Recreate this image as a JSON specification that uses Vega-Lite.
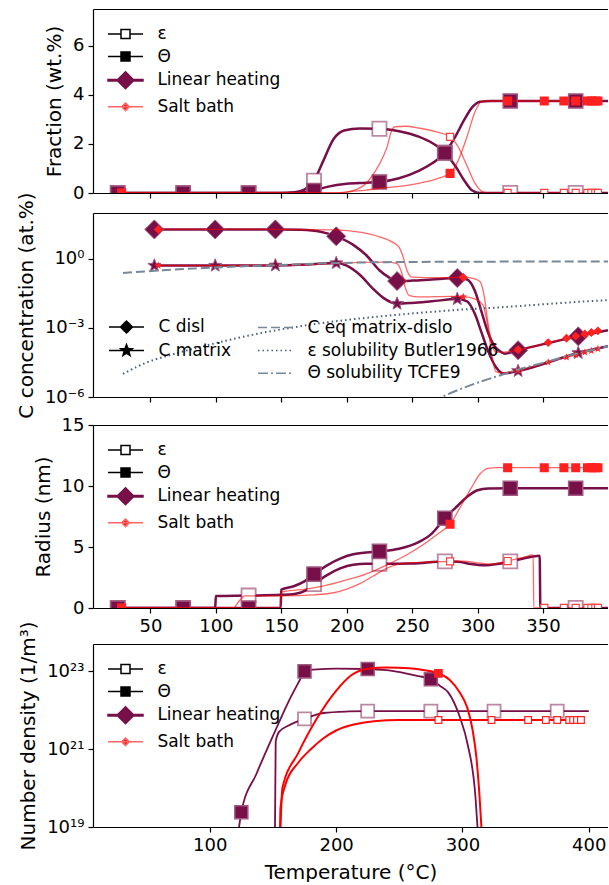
{
"$schema":"https://vega.github.io/schema/vega-lite/v6.json",
"background":"white",
"padding":{"left":16,"top":9,"right":0,"bottom":0},
"config":{"font":"DejaVu Sans","view":{"stroke":null},
"axis":{"labelFont":"DejaVu Sans","labelFontSize":18,"labelColor":"black","titleFont":"DejaVu Sans","titleFontSize":20,"titleFontWeight":"normal","titleColor":"black","tickColor":"black","tickSize":5,"tickWidth":1.2,"domainColor":"black","domainWidth":1.2,"grid":false,"labelPadding":4,"titlePadding":8,"labelOverlap":false},
"legend":{"labelFont":"DejaVu Sans","labelFontSize":17,"labelColor":"black","labelLimit":400}},
"datasets":{
"leg1":[{"leg":"ε"},{"leg":"Θ"},{"leg":"Linear heating"},{"leg":"Salt bath"}],
"leg2":[{"leg":"C disl"},{"leg":"C matrix"},{"leg":" "},{"leg":"C eq matrix-dislo"},{"leg":"ε solubility Butler1966"},{"leg":"Θ solubility TCFE9"}],
"f":[
{"s":"LHe","T":25,"v":0,"m":1},{"s":"LHe","T":75,"v":0,"m":1},{"s":"LHe","T":125,"v":0,"m":1},{"s":"LHe","T":150,"v":0},{"s":"LHe","T":160,"v":0.03},{"s":"LHe","T":168,"v":0.15},{"s":"LHe","T":175,"v":0.5,"m":1},{"s":"LHe","T":182,"v":1.3},{"s":"LHe","T":190,"v":2.2},{"s":"LHe","T":198,"v":2.55},{"s":"LHe","T":210,"v":2.63},{"s":"LHe","T":225,"v":2.62,"m":1},{"s":"LHe","T":240,"v":2.52},{"s":"LHe","T":255,"v":2.3},{"s":"LHe","T":265,"v":2.05},{"s":"LHe","T":275,"v":1.65,"m":1},{"s":"LHe","T":283,"v":1.1},{"s":"LHe","T":290,"v":0.5},{"s":"LHe","T":296,"v":0.1},{"s":"LHe","T":302,"v":0},{"s":"LHe","T":325,"v":0,"m":1},{"s":"LHe","T":375,"v":0,"m":1},{"s":"LHe","T":400,"v":0},
{"s":"LHt","T":25,"v":0,"m":1},{"s":"LHt","T":75,"v":0,"m":1},{"s":"LHt","T":125,"v":0,"m":1},{"s":"LHt","T":150,"v":0},{"s":"LHt","T":160,"v":0.01},{"s":"LHt","T":170,"v":0.05},{"s":"LHt","T":175,"v":0.1,"m":1},{"s":"LHt","T":185,"v":0.25},{"s":"LHt","T":200,"v":0.38},{"s":"LHt","T":215,"v":0.42},{"s":"LHt","T":225,"v":0.45,"m":1},{"s":"LHt","T":240,"v":0.6},{"s":"LHt","T":255,"v":0.9},{"s":"LHt","T":265,"v":1.2},{"s":"LHt","T":275,"v":1.63,"m":1},{"s":"LHt","T":283,"v":2.3},{"s":"LHt","T":290,"v":3.0},{"s":"LHt","T":296,"v":3.5},{"s":"LHt","T":302,"v":3.72},{"s":"LHt","T":310,"v":3.75},{"s":"LHt","T":325,"v":3.75,"m":1},{"s":"LHt","T":375,"v":3.75,"m":1},{"s":"LHt","T":400,"v":3.75},
{"s":"SBe","T":28,"v":0,"m":1},{"s":"SBe","T":195,"v":0},{"s":"SBe","T":205,"v":0.1},{"s":"SBe","T":215,"v":0.4},{"s":"SBe","T":222,"v":0.9},{"s":"SBe","T":228,"v":1.5},{"s":"SBe","T":231,"v":1.9},{"s":"SBe","T":234,"v":2.5},{"s":"SBe","T":237,"v":2.7},{"s":"SBe","T":245,"v":2.72},{"s":"SBe","T":255,"v":2.65},{"s":"SBe","T":268,"v":2.5},{"s":"SBe","T":279,"v":2.29,"m":1},{"s":"SBe","T":285,"v":1.9},{"s":"SBe","T":292,"v":1.1},{"s":"SBe","T":298,"v":0.4},{"s":"SBe","T":304,"v":0.05},{"s":"SBe","T":310,"v":0},{"s":"SBe","T":323,"v":0,"m":1},{"s":"SBe","T":351,"v":0,"m":1},{"s":"SBe","T":366,"v":0,"m":1},{"s":"SBe","T":375,"v":0,"m":1},{"s":"SBe","T":384,"v":0,"m":1},{"s":"SBe","T":387,"v":0,"m":1},{"s":"SBe","T":390,"v":0,"m":1},{"s":"SBe","T":392,"v":0,"m":1},
{"s":"SBt","T":28,"v":0,"m":1},{"s":"SBt","T":190,"v":0},{"s":"SBt","T":200,"v":0.05},{"s":"SBt","T":215,"v":0.12},{"s":"SBt","T":230,"v":0.22},{"s":"SBt","T":245,"v":0.3},{"s":"SBt","T":260,"v":0.45},{"s":"SBt","T":270,"v":0.6},{"s":"SBt","T":279,"v":0.8,"m":1},{"s":"SBt","T":285,"v":1.3},{"s":"SBt","T":292,"v":2.3},{"s":"SBt","T":298,"v":3.3},{"s":"SBt","T":303,"v":3.72},{"s":"SBt","T":308,"v":3.75},{"s":"SBt","T":323,"v":3.75,"m":1},{"s":"SBt","T":351,"v":3.75,"m":1},{"s":"SBt","T":366,"v":3.75,"m":1},{"s":"SBt","T":375,"v":3.75,"m":1},{"s":"SBt","T":384,"v":3.75,"m":1},{"s":"SBt","T":387,"v":3.75,"m":1},{"s":"SBt","T":390,"v":3.75,"m":1},{"s":"SBt","T":392,"v":3.75,"m":1}
],
"c":[
{"s":"LHd","T":53,"v":18.6,"m":1},{"s":"LHd","T":99.5,"v":18.6,"m":1},{"s":"LHd","T":145.5,"v":18.6,"m":1},{"s":"LHd","T":165,"v":17.8},{"s":"LHd","T":180,"v":14.8},{"s":"LHd","T":192,"v":9.33,"m":1},{"s":"LHd","T":205,"v":3.98},{"s":"LHd","T":215,"v":1.41},{"s":"LHd","T":225,"v":0.316},{"s":"LHd","T":232,"v":0.158},{"s":"LHd","T":238.5,"v":0.107,"m":1},{"s":"LHd","T":250,"v":0.112},{"s":"LHd","T":265,"v":0.126},{"s":"LHd","T":284.5,"v":0.145,"m":1},{"s":"LHd","T":292,"v":0.126},{"s":"LHd","T":298,"v":0.0398},{"s":"LHd","T":303,"v":0.00501},{"s":"LHd","T":308,"v":0.000631},{"s":"LHd","T":313,"v":0.000158},{"s":"LHd","T":318,"v":0.0000891},{"s":"LHd","T":321,"v":0.0000759},{"s":"LHd","T":331,"v":0.000107,"m":1},{"s":"LHd","T":377,"v":0.000427,"m":1},{"s":"LHd","T":399.7,"v":0.000794},
{"s":"LHm","T":53,"v":0.501,"m":1},{"s":"LHm","T":99.5,"v":0.501,"m":1},{"s":"LHm","T":145.5,"v":0.513,"m":1},{"s":"LHm","T":170,"v":0.562},{"s":"LHm","T":192,"v":0.646,"m":1},{"s":"LHm","T":200,"v":0.501},{"s":"LHm","T":210,"v":0.2},{"s":"LHm","T":220,"v":0.0501},{"s":"LHm","T":228,"v":0.02},{"s":"LHm","T":238.5,"v":0.0112,"m":1},{"s":"LHm","T":250,"v":0.012},{"s":"LHm","T":265,"v":0.0141},{"s":"LHm","T":284.5,"v":0.0178,"m":1},{"s":"LHm","T":292,"v":0.0141},{"s":"LHm","T":298,"v":0.00398},{"s":"LHm","T":303,"v":0.000631},{"s":"LHm","T":308,"v":0.0001},{"s":"LHm","T":314,"v":0.00002},{"s":"LHm","T":320,"v":0.0000105},{"s":"LHm","T":331,"v":0.0000135,"m":1},{"s":"LHm","T":377,"v":0.0000813,"m":1},{"s":"LHm","T":399.7,"v":0.000158},
{"s":"SBd","T":56,"v":18.6,"m":1},{"s":"SBd","T":100,"v":18.6},{"s":"SBd","T":150,"v":18.6},{"s":"SBd","T":192,"v":17.8},{"s":"SBd","T":210,"v":14.1},{"s":"SBd","T":225,"v":8.91},{"s":"SBd","T":235,"v":5.25},{"s":"SBd","T":240,"v":3.16},{"s":"SBd","T":243,"v":1.26},{"s":"SBd","T":246,"v":0.316},{"s":"SBd","T":250,"v":0.158},{"s":"SBd","T":260,"v":0.151},{"s":"SBd","T":280,"v":0.151},{"s":"SBd","T":289,"v":0.158,"m":1},{"s":"SBd","T":296,"v":0.141},{"s":"SBd","T":302,"v":0.1},{"s":"SBd","T":305,"v":0.0251},{"s":"SBd","T":308,"v":0.00158},{"s":"SBd","T":311,"v":0.0002},{"s":"SBd","T":314,"v":0.0000891},{"s":"SBd","T":320,"v":0.0000891},{"s":"SBd","T":331,"v":0.000112,"m":1},{"s":"SBd","T":354,"v":0.000229,"m":1},{"s":"SBd","T":368,"v":0.000355,"m":1},{"s":"SBd","T":375,"v":0.000437,"m":1},{"s":"SBd","T":382,"v":0.000537,"m":1},{"s":"SBd","T":387,"v":0.000631,"m":1},{"s":"SBd","T":392,"v":0.000741,"m":1},
{"s":"SBm","T":56,"v":0.501,"m":1},{"s":"SBm","T":150,"v":0.513},{"s":"SBm","T":192,"v":0.631},{"s":"SBm","T":210,"v":0.692},{"s":"SBm","T":230,"v":0.708},{"s":"SBm","T":238,"v":0.631},{"s":"SBm","T":242,"v":0.251},{"s":"SBm","T":245,"v":0.0501},{"s":"SBm","T":248,"v":0.0251},{"s":"SBm","T":255,"v":0.0219},{"s":"SBm","T":280,"v":0.0234},{"s":"SBm","T":289,"v":0.0224,"m":1},{"s":"SBm","T":298,"v":0.0178},{"s":"SBm","T":304,"v":0.01},{"s":"SBm","T":308,"v":0.001},{"s":"SBm","T":311,"v":0.0000631},{"s":"SBm","T":314,"v":0.0000126},{"s":"SBm","T":318,"v":0.0000112},{"s":"SBm","T":331,"v":0.0000141,"m":1},{"s":"SBm","T":354,"v":0.0000324,"m":1},{"s":"SBm","T":368,"v":0.0000525,"m":1},{"s":"SBm","T":375,"v":0.0000676,"m":1},{"s":"SBm","T":382,"v":0.0000871,"m":1},{"s":"SBm","T":387,"v":0.000102,"m":1},{"s":"SBm","T":392,"v":0.000123,"m":1},
{"s":"eq","T":29,"v":0.24},{"s":"eq","T":60,"v":0.316},{"s":"eq","T":100,"v":0.417},{"s":"eq","T":150,"v":0.537},{"s":"eq","T":192,"v":0.646},{"s":"eq","T":230,"v":0.708},{"s":"eq","T":300,"v":0.741},{"s":"eq","T":399.7,"v":0.759},
{"s":"eps","T":29,"v":0.00001},{"s":"eps","T":45,"v":0.0000282},{"s":"eps","T":67,"v":0.0000708},{"s":"eps","T":90,"v":0.000158},{"s":"eps","T":112,"v":0.000316},{"s":"eps","T":135,"v":0.000603},{"s":"eps","T":157,"v":0.001},{"s":"eps","T":180,"v":0.00158},{"s":"eps","T":201,"v":0.00224},{"s":"eps","T":230,"v":0.00331},{"s":"eps","T":260,"v":0.00468},{"s":"eps","T":290,"v":0.00631},{"s":"eps","T":320,"v":0.00794},{"s":"eps","T":350,"v":0.0105},{"s":"eps","T":375,"v":0.0132},{"s":"eps","T":399.7,"v":0.0158},
{"s":"th","T":265,"v":0.000000631},{"s":"th","T":272.5,"v":0.000001},{"s":"th","T":285,"v":0.000002},{"s":"th","T":300,"v":0.00000417},{"s":"th","T":315,"v":0.00000794},{"s":"th","T":330,"v":0.0000148},{"s":"th","T":350,"v":0.0000302},{"s":"th","T":375,"v":0.0000741},{"s":"th","T":399.7,"v":0.000158}
],
"r":[
{"s":"LHe","T":25,"v":0,"m":1},{"s":"LHe","T":75,"v":0,"m":1},{"s":"LHe","T":99.5,"v":0},{"s":"LHe","T":100,"v":0.98},{"s":"LHe","T":125,"v":1.02,"m":1},{"s":"LHe","T":150,"v":1.08},{"s":"LHe","T":160,"v":1.15},{"s":"LHe","T":168,"v":1.4},{"s":"LHe","T":175,"v":1.96,"m":1},{"s":"LHe","T":185,"v":2.7},{"s":"LHe","T":195,"v":3.25},{"s":"LHe","T":205,"v":3.55},{"s":"LHe","T":215,"v":3.62},{"s":"LHe","T":225,"v":3.62,"m":1},{"s":"LHe","T":250,"v":3.65},{"s":"LHe","T":275,"v":3.82,"m":1},{"s":"LHe","T":285,"v":3.8},{"s":"LHe","T":295,"v":3.6},{"s":"LHe","T":305,"v":3.5},{"s":"LHe","T":315,"v":3.6},{"s":"LHe","T":325,"v":3.82,"m":1},{"s":"LHe","T":335,"v":4.05},{"s":"LHe","T":347.5,"v":4.28},{"s":"LHe","T":348,"v":0},{"s":"LHe","T":375,"v":0,"m":1},{"s":"LHe","T":400,"v":0},
{"s":"LHt","T":25,"v":0,"m":1},{"s":"LHt","T":75,"v":0,"m":1},{"s":"LHt","T":125,"v":0,"m":1},{"s":"LHt","T":149.5,"v":0},{"s":"LHt","T":150,"v":1.5},{"s":"LHt","T":160,"v":1.8},{"s":"LHt","T":168,"v":2.2},{"s":"LHt","T":175,"v":2.78,"m":1},{"s":"LHt","T":185,"v":3.5},{"s":"LHt","T":195,"v":4.05},{"s":"LHt","T":205,"v":4.4},{"s":"LHt","T":215,"v":4.55},{"s":"LHt","T":225,"v":4.64,"m":1},{"s":"LHt","T":240,"v":4.85},{"s":"LHt","T":255,"v":5.4},{"s":"LHt","T":265,"v":6.1},{"s":"LHt","T":275,"v":7.36,"m":1},{"s":"LHt","T":285,"v":8.4},{"s":"LHt","T":293,"v":9.2},{"s":"LHt","T":300,"v":9.65},{"s":"LHt","T":308,"v":9.8},{"s":"LHt","T":325,"v":9.82,"m":1},{"s":"LHt","T":375,"v":9.82,"m":1},{"s":"LHt","T":400,"v":9.82},
{"s":"SBe","T":28,"v":0,"m":1},{"s":"SBe","T":113,"v":0},{"s":"SBe","T":118,"v":0.6},{"s":"SBe","T":122,"v":1.0},{"s":"SBe","T":150,"v":1.0},{"s":"SBe","T":175,"v":1.08},{"s":"SBe","T":190,"v":1.25},{"s":"SBe","T":200,"v":1.55},{"s":"SBe","T":210,"v":2.0},{"s":"SBe","T":220,"v":2.6},{"s":"SBe","T":228,"v":3.1},{"s":"SBe","T":235,"v":3.45},{"s":"SBe","T":245,"v":3.68},{"s":"SBe","T":260,"v":3.75},{"s":"SBe","T":279,"v":3.82,"m":1},{"s":"SBe","T":290,"v":3.85},{"s":"SBe","T":300,"v":3.7},{"s":"SBe","T":310,"v":3.6},{"s":"SBe","T":323,"v":3.85,"m":1},{"s":"SBe","T":335,"v":4.15},{"s":"SBe","T":342.5,"v":4.35},{"s":"SBe","T":343,"v":0},{"s":"SBe","T":351,"v":0,"m":1},{"s":"SBe","T":366,"v":0,"m":1},{"s":"SBe","T":375,"v":0,"m":1},{"s":"SBe","T":384,"v":0,"m":1},{"s":"SBe","T":387,"v":0,"m":1},{"s":"SBe","T":390,"v":0,"m":1},{"s":"SBe","T":392,"v":0,"m":1},
{"s":"SBt","T":28,"v":0,"m":1},{"s":"SBt","T":149.5,"v":0},{"s":"SBt","T":150,"v":1.3},{"s":"SBt","T":165,"v":1.5},{"s":"SBt","T":180,"v":1.75},{"s":"SBt","T":200,"v":2.3},{"s":"SBt","T":215,"v":2.8},{"s":"SBt","T":230,"v":3.5},{"s":"SBt","T":245,"v":4.3},{"s":"SBt","T":260,"v":5.3},{"s":"SBt","T":270,"v":6.1},{"s":"SBt","T":279,"v":6.87,"m":1},{"s":"SBt","T":287,"v":8.3},{"s":"SBt","T":295,"v":9.8},{"s":"SBt","T":302,"v":11.0},{"s":"SBt","T":308,"v":11.45},{"s":"SBt","T":315,"v":11.5},{"s":"SBt","T":323,"v":11.5,"m":1},{"s":"SBt","T":351,"v":11.5,"m":1},{"s":"SBt","T":366,"v":11.5,"m":1},{"s":"SBt","T":375,"v":11.5,"m":1},{"s":"SBt","T":384,"v":11.5,"m":1},{"s":"SBt","T":387,"v":11.5,"m":1},{"s":"SBt","T":390,"v":11.5,"m":1},{"s":"SBt","T":392,"v":11.5,"m":1}
],
"n":[
{"s":"LHt","T":122,"v":5.0e18},{"s":"LHt","T":125,"v":2.4e19,"m":1},{"s":"LHt","T":137,"v":2.34e20},{"s":"LHt","T":149.5,"v":2.0e21},{"s":"LHt","T":162,"v":1.58e22},{"s":"LHt","T":171,"v":5.75e22},{"s":"LHt","T":175,"v":1.0e23,"m":1},{"s":"LHt","T":185,"v":1.12e23},{"s":"LHt","T":200,"v":1.17e23},{"s":"LHt","T":225,"v":1.15e23,"m":1},{"s":"LHt","T":240,"v":1.07e23},{"s":"LHt","T":255,"v":8.91e22},{"s":"LHt","T":265,"v":7.59e22},{"s":"LHt","T":275,"v":6.31e22,"m":1},{"s":"LHt","T":282,"v":4.27e22},{"s":"LHt","T":288.7,"v":2.88e22},{"s":"LHt","T":298,"v":6.61e21},{"s":"LHt","T":304,"v":1.38e21},{"s":"LHt","T":310.3,"v":5.89e19},{"s":"LHt","T":311.9,"v":1.0e19},{"s":"LHt","T":313,"v":3.16e18},
{"s":"LHe","T":151.5,"v":3.16e18},{"s":"LHe","T":152.2,"v":1.58e21},{"s":"LHe","T":155,"v":2.82e21},{"s":"LHe","T":162,"v":3.98e21},{"s":"LHe","T":170,"v":5.25e21},{"s":"LHe","T":175,"v":6.03e21,"m":1},{"s":"LHe","T":190,"v":8.51e21},{"s":"LHe","T":210,"v":9.33e21},{"s":"LHe","T":225,"v":9.55e21,"m":1},{"s":"LHe","T":275,"v":9.55e21,"m":1},{"s":"LHe","T":325,"v":9.55e21,"m":1},{"s":"LHe","T":375,"v":9.55e21,"m":1},{"s":"LHe","T":400,"v":9.55e21},
{"s":"SBt","T":155.5,"v":3.16e18},{"s":"SBt","T":156,"v":1.0e19},{"s":"SBt","T":157.5,"v":1.0e20},{"s":"SBt","T":170,"v":7.94e20},{"s":"SBt","T":185,"v":6.31e21},{"s":"SBt","T":200,"v":3.16e22},{"s":"SBt","T":212,"v":7.94e22},{"s":"SBt","T":225,"v":1.17e23},{"s":"SBt","T":240,"v":1.26e23},{"s":"SBt","T":258,"v":1.2e23},{"s":"SBt","T":270,"v":1.07e23},{"s":"SBt","T":281,"v":8.91e22,"m":1},{"s":"SBt","T":290,"v":6.03e22},{"s":"SBt","T":298,"v":2.82e22},{"s":"SBt","T":304,"v":1.12e22},{"s":"SBt","T":308,"v":3.16e21},{"s":"SBt","T":311,"v":6.31e20},{"s":"SBt","T":313.5,"v":6.31e19},{"s":"SBt","T":315,"v":1.0e19},{"s":"SBt","T":316,"v":3.16e18},
{"s":"SBe","T":155.5,"v":3.16e18},{"s":"SBe","T":156,"v":3.16e19},{"s":"SBe","T":160,"v":1.26e20},{"s":"SBe","T":170,"v":4.47e20},{"s":"SBe","T":180,"v":1.0e21},{"s":"SBe","T":190,"v":1.91e21},{"s":"SBe","T":200,"v":3.02e21},{"s":"SBe","T":215,"v":4.37e21},{"s":"SBe","T":230,"v":5.25e21},{"s":"SBe","T":250,"v":5.62e21},{"s":"SBe","T":281,"v":5.62e21,"m":1},{"s":"SBe","T":323,"v":5.62e21,"m":1},{"s":"SBe","T":352,"v":5.62e21,"m":1},{"s":"SBe","T":366,"v":5.62e21,"m":1},{"s":"SBe","T":375,"v":5.62e21,"m":1},{"s":"SBe","T":384.5,"v":5.62e21,"m":1},{"s":"SBe","T":387.6,"v":5.62e21,"m":1},{"s":"SBe","T":390.7,"v":5.62e21,"m":1},{"s":"SBe","T":393.8,"v":5.62e21,"m":1}
]
},
"resolve":{"scale":{"x":"independent","y":"independent","shape":"independent","fill":"independent","stroke":"independent","strokeDash":"independent"},"legend":{"shape":"independent","fill":"independent","stroke":"independent","strokeDash":"independent"}},
"spacing":0,"bounds":"flush",
"vconcat":[
{"width":515,"height":184,"resolve":{"axis":{"x":"independent"}},
"layer":[
{"data":{"name":"f"},
"encoding":{"x":{"field":"T","type":"quantitative","scale":{"domain":[6.1,399.7],"nice":false,"zero":false},"axis":{"values":[50,100,150,200,250,300,350],"labels":false,"title":null}},
"y":{"field":"v","type":"quantitative","scale":{"domain":[0,7.5],"nice":false,"zero":false},"axis":{"values":[0,2,4,6],"title":"Fraction (wt.%)"}}},
"layer":[
{"transform":[{"filter":"datum.s=='LHe'||datum.s=='LHt'"}],"mark":{"type":"line","color":"#770f48","strokeWidth":2.5,"interpolate":"monotone","clip":true},"encoding":{"detail":{"field":"s"}}},
{"transform":[{"filter":"datum.s=='LHe'&&datum.m==1"}],"mark":{"type":"point","shape":"square","size":200,"filled":true,"fill":"white","stroke":"#770f48","strokeOpacity":0.5,"strokeWidth":1.8,"opacity":1,"clip":true}},
{"transform":[{"filter":"datum.s=='LHt'&&datum.m==1"}],"mark":{"type":"point","shape":"square","size":200,"filled":true,"fill":"#770f48","stroke":"#a05a80","strokeWidth":1.5,"opacity":1,"clip":true}},
{"transform":[{"filter":"datum.s=='SBe'||datum.s=='SBt'"}],"mark":{"type":"line","color":"#ff0000","opacity":0.6,"strokeWidth":1.3,"interpolate":"monotone","clip":true},"encoding":{"detail":{"field":"s"}}},
{"transform":[{"filter":"datum.s=='SBe'&&datum.m==1"}],"mark":{"type":"point","shape":"square","size":50,"filled":true,"fill":"white","stroke":"#ff4040","strokeWidth":1.2,"opacity":1,"clip":true}},
{"transform":[{"filter":"datum.s=='SBt'&&datum.m==1"}],"mark":{"type":"point","shape":"square","size":50,"filled":true,"fill":"#ff2020","stroke":"#ff2020","opacity":1,"clip":true}}
]},
{"data":{"name":"leg1"},"mark":{"type":"point","filled":true,"opacity":1},
"encoding":{"x":{"field":"T","type":"quantitative","axis":{"orient":"top","labels":false,"ticks":false,"domain":true,"title":null}},
"shape":{"field":"leg","type":"nominal","scale":{"domain":["ε","Θ","Linear heating","Salt bath"],"range":["M-1,0H0.3M1.2,0H2.5M0.3,-0.45H1.2V0.45H0.3Z","M-1,0H2.5M0.3,-0.45H1.2V0.45H0.3Z","M-1,-0.08H2.5V0.08H-1ZM0.75,-0.85L1.6,0L0.75,0.85L-0.1,0Z","M-1,0H2.5M0.75,-0.38L1.13,0L0.75,0.38L0.37,0Z"]},"legend":{"title":null,"orient":"top-left","offset":14,"padding":0,"symbolSize":400,"symbolStrokeWidth":1.5,"symbolOpacity":1,"labelOffset":28.4,"rowPadding":3.6}},
"fill":{"field":"leg","type":"nominal","scale":{"domain":["ε","Θ","Linear heating","Salt bath"],"range":["white","black","#770f48","#ff1a1a"]},"legend":{"title":null,"orient":"top-left","offset":14,"padding":0,"symbolSize":400,"symbolStrokeWidth":1.5,"symbolOpacity":1,"labelOffset":28.4,"rowPadding":3.6}},
"stroke":{"field":"leg","type":"nominal","scale":{"domain":["ε","Θ","Linear heating","Salt bath"],"range":["black","black","#770f48","#ff6666"]},"legend":{"title":null,"orient":"top-left","offset":14,"padding":0,"symbolSize":400,"symbolStrokeWidth":1.5,"symbolOpacity":1,"labelOffset":28.4,"rowPadding":3.6}}}}
]},
{"width":515,"height":19.4,"data":{"values":[]},"mark":"point"},
{"width":515,"height":184,"resolve":{"axis":{"x":"independent"}},
"layer":[
{"data":{"name":"c"},
"encoding":{"x":{"field":"T","type":"quantitative","scale":{"domain":[6.1,399.7],"nice":false,"zero":false},"axis":{"values":[50,100,150,200,250,300,350],"labels":false,"title":null}},
"y":{"field":"v","type":"quantitative","scale":{"type":"log","domain":[0.000001,96],"nice":false},"axis":{"values":[0.000001,0.001,1],"labelExpr":"datum.value > 0.1 ? '10⁰' : datum.value > 0.0001 ? '10⁻³' : '10⁻⁶'","title":"C concentration (at.%)"}}},
"layer":[
{"transform":[{"filter":"datum.s=='LHd'||datum.s=='LHm'"}],"mark":{"type":"line","color":"#770f48","strokeWidth":2.5,"interpolate":"monotone","clip":true},"encoding":{"detail":{"field":"s"}}},
{"transform":[{"filter":"datum.s=='LHd'&&datum.m==1"}],"mark":{"type":"point","shape":"diamond","size":360,"filled":true,"fill":"#770f48","stroke":"#a05a80","strokeWidth":1,"opacity":1,"clip":true}},
{"transform":[{"filter":"datum.s=='LHm'&&datum.m==1"}],"mark":{"type":"point","shape":"M0,-1L0.247,-0.34L0.951,-0.309L0.4,0.13L0.588,0.809L0,0.42L-0.588,0.809L-0.4,0.13L-0.951,-0.309L-0.247,-0.34Z","size":185,"filled":true,"fill":"#770f48","stroke":"#a05a80","strokeWidth":1,"opacity":1,"clip":true}},
{"transform":[{"filter":"datum.s=='SBd'||datum.s=='SBm'"}],"mark":{"type":"line","color":"#ff0000","opacity":0.6,"strokeWidth":1.3,"interpolate":"monotone","clip":true},"encoding":{"detail":{"field":"s"}}},
{"transform":[{"filter":"datum.s=='SBd'&&datum.m==1"}],"mark":{"type":"point","shape":"diamond","size":80,"filled":true,"fill":"#ff2020","opacity":1,"clip":true}},
{"transform":[{"filter":"datum.s=='SBm'&&datum.m==1"}],"mark":{"type":"point","shape":"M0,-1L0.247,-0.34L0.951,-0.309L0.4,0.13L0.588,0.809L0,0.42L-0.588,0.809L-0.4,0.13L-0.951,-0.309L-0.247,-0.34Z","size":64,"filled":true,"fill":"#ff2020","opacity":1,"clip":true}},
{"transform":[{"filter":"datum.s=='eq'"}],"mark":{"type":"line","color":"#778899","strokeWidth":2,"strokeDash":[9,4],"clip":true,"interpolate":"monotone"},"encoding":{}},
{"transform":[{"filter":"datum.s=='eps'"}],"mark":{"type":"line","color":"#4d5d7a","strokeWidth":2,"strokeDash":[1.5,3],"clip":true,"interpolate":"monotone"},"encoding":{}},
{"transform":[{"filter":"datum.s=='th'"}],"mark":{"type":"line","color":"#778899","strokeWidth":2,"strokeDash":[10,3,2,3],"clip":true,"interpolate":"monotone"},"encoding":{}}
]},
{"data":{"name":"leg2"},"mark":{"type":"point","filled":true,"opacity":1},
"encoding":{"x":{"field":"T","type":"quantitative","axis":{"orient":"top","labels":false,"ticks":false,"domain":true,"title":null}},
"shape":{"field":"leg","type":"nominal","scale":{"domain":["C disl","C matrix"," ","C eq matrix-dislo","ε solubility Butler1966","Θ solubility TCFE9"],"range":["M-1,0H2.5M0.75,-0.6L1.35,0L0.75,0.6L0.15,0Z","M-1,0H2.5M0.75,-0.6L0.897,-0.202L1.321,-0.185L0.988,0.077L1.103,0.485L0.75,0.25L0.397,0.485L0.512,0.077L0.179,-0.185L0.603,-0.202Z","M0,0","M-1,0H2.5","M-1,0H2.5","M-1,0H2.5"]},"legend":{"title":null,"orient":"bottom-left","offset":15,"padding":0,"columns":2,"columnPadding":23,"symbolSize":400,"symbolStrokeWidth":1.5,"symbolOpacity":1,"labelOffset":28.4,"rowPadding":3.6}},
"fill":{"field":"leg","type":"nominal","scale":{"domain":["C disl","C matrix"," ","C eq matrix-dislo","ε solubility Butler1966","Θ solubility TCFE9"],"range":["black","black","transparent","transparent","transparent","transparent"]},"legend":{"title":null,"orient":"bottom-left","offset":15,"padding":0,"columns":2,"columnPadding":23,"symbolSize":400,"symbolStrokeWidth":1.5,"symbolOpacity":1,"labelOffset":28.4,"rowPadding":3.6}},
"stroke":{"field":"leg","type":"nominal","scale":{"domain":["C disl","C matrix"," ","C eq matrix-dislo","ε solubility Butler1966","Θ solubility TCFE9"],"range":["black","black","transparent","#778899","#4d5d7a","#778899"]},"legend":{"title":null,"orient":"bottom-left","offset":15,"padding":0,"columns":2,"columnPadding":23,"symbolSize":400,"symbolStrokeWidth":1.5,"symbolOpacity":1,"labelOffset":28.4,"rowPadding":3.6}},
"strokeDash":{"field":"leg","type":"nominal","scale":{"domain":["C disl","C matrix"," ","C eq matrix-dislo","ε solubility Butler1966","Θ solubility TCFE9"],"range":[[1,0],[1,0],[1,0],[9,4],[1.5,3],[10,3,2,3]]},"legend":{"title":null,"orient":"bottom-left","offset":15,"padding":0,"columns":2,"columnPadding":23,"symbolSize":400,"symbolStrokeWidth":1.5,"symbolOpacity":1,"labelOffset":28.4,"rowPadding":3.6}}}}
]},
{"width":515,"height":27.3,"data":{"values":[]},"mark":"point"},
{"width":515,"height":183,"resolve":{"axis":{"x":"independent"}},
"layer":[
{"data":{"name":"r"},
"encoding":{"x":{"field":"T","type":"quantitative","scale":{"domain":[6.1,399.7],"nice":false,"zero":false},"axis":{"values":[50,100,150,200,250,300,350],"title":null}},
"y":{"field":"v","type":"quantitative","scale":{"domain":[0,15],"nice":false,"zero":false},"axis":{"values":[0,5,10,15],"title":"Radius (nm)"}}},
"layer":[
{"transform":[{"filter":"datum.s=='LHe'||datum.s=='LHt'"}],"mark":{"type":"line","color":"#770f48","strokeWidth":2.5,"interpolate":"monotone","clip":true},"encoding":{"detail":{"field":"s"}}},
{"transform":[{"filter":"datum.s=='LHe'&&datum.m==1"}],"mark":{"type":"point","shape":"square","size":200,"filled":true,"fill":"white","stroke":"#770f48","strokeOpacity":0.5,"strokeWidth":1.8,"opacity":1,"clip":true}},
{"transform":[{"filter":"datum.s=='LHt'&&datum.m==1"}],"mark":{"type":"point","shape":"square","size":200,"filled":true,"fill":"#770f48","stroke":"#a05a80","strokeWidth":1.5,"opacity":1,"clip":true}},
{"transform":[{"filter":"datum.s=='SBe'||datum.s=='SBt'"}],"mark":{"type":"line","color":"#ff0000","opacity":0.6,"strokeWidth":1.3,"interpolate":"monotone","clip":true},"encoding":{"detail":{"field":"s"}}},
{"transform":[{"filter":"datum.s=='SBe'&&datum.m==1"}],"mark":{"type":"point","shape":"square","size":50,"filled":true,"fill":"white","stroke":"#ff4040","strokeWidth":1.2,"opacity":1,"clip":true}},
{"transform":[{"filter":"datum.s=='SBt'&&datum.m==1"}],"mark":{"type":"point","shape":"square","size":50,"filled":true,"fill":"#ff2020","stroke":"#ff2020","opacity":1,"clip":true}}
]},
{"data":{"name":"leg1"},"mark":{"type":"point","filled":true,"opacity":1},
"encoding":{"x":{"field":"T","type":"quantitative","axis":{"orient":"top","labels":false,"ticks":false,"domain":true,"title":null}},
"shape":{"field":"leg","type":"nominal","scale":{"domain":["ε","Θ","Linear heating","Salt bath"],"range":["M-1,0H0.3M1.2,0H2.5M0.3,-0.45H1.2V0.45H0.3Z","M-1,0H2.5M0.3,-0.45H1.2V0.45H0.3Z","M-1,-0.08H2.5V0.08H-1ZM0.75,-0.85L1.6,0L0.75,0.85L-0.1,0Z","M-1,0H2.5M0.75,-0.38L1.13,0L0.75,0.38L0.37,0Z"]},"legend":{"title":null,"orient":"top-left","offset":14,"padding":0,"symbolSize":400,"symbolStrokeWidth":1.5,"symbolOpacity":1,"labelOffset":28.4,"rowPadding":3.6}},
"fill":{"field":"leg","type":"nominal","scale":{"domain":["ε","Θ","Linear heating","Salt bath"],"range":["white","black","#770f48","#ff1a1a"]},"legend":{"title":null,"orient":"top-left","offset":14,"padding":0,"symbolSize":400,"symbolStrokeWidth":1.5,"symbolOpacity":1,"labelOffset":28.4,"rowPadding":3.6}},
"stroke":{"field":"leg","type":"nominal","scale":{"domain":["ε","Θ","Linear heating","Salt bath"],"range":["black","black","#770f48","#ff6666"]},"legend":{"title":null,"orient":"top-left","offset":14,"padding":0,"symbolSize":400,"symbolStrokeWidth":1.5,"symbolOpacity":1,"labelOffset":28.4,"rowPadding":3.6}}}}
]},
{"width":515,"height":36,"data":{"values":[]},"mark":"point"},
{"width":515,"height":183,"resolve":{"axis":{"x":"independent"}},
"layer":[
{"data":{"name":"n"},
"encoding":{"x":{"field":"T","type":"quantitative","scale":{"domain":[7.6,415.2],"nice":false,"zero":false},"axis":{"values":[100,200,300,400],"title":"Temperature (°C)"}},
"y":{"field":"v","type":"quantitative","scale":{"type":"log","domain":[1e19,5.05e23],"nice":false},"axis":{"values":[1e19,1e21,1e23],"labelExpr":"datum.value > 5e22 ? '10²³' : datum.value > 5e20 ? '10²¹' : '10¹⁹'","title":"Number density (1/m³)"}}},
"layer":[
{"transform":[{"filter":"datum.s=='LHe'||datum.s=='LHt'"}],"mark":{"type":"line","color":"#770f48","strokeWidth":1.8,"interpolate":"monotone","clip":true},"encoding":{"detail":{"field":"s"}}},
{"transform":[{"filter":"datum.s=='LHe'&&datum.m==1"}],"mark":{"type":"point","shape":"square","size":170,"filled":true,"fill":"white","stroke":"#770f48","strokeOpacity":0.5,"strokeWidth":1.8,"opacity":1,"clip":true}},
{"transform":[{"filter":"datum.s=='LHt'&&datum.m==1"}],"mark":{"type":"point","shape":"square","size":170,"filled":true,"fill":"#770f48","stroke":"#a05a80","strokeWidth":1.5,"opacity":1,"clip":true}},
{"transform":[{"filter":"datum.s=='SBe'||datum.s=='SBt'"}],"mark":{"type":"line","color":"#ff0000","opacity":1,"strokeWidth":2,"interpolate":"monotone","clip":true},"encoding":{"detail":{"field":"s"}}},
{"transform":[{"filter":"datum.s=='SBe'&&datum.m==1"}],"mark":{"type":"point","shape":"square","size":45,"filled":true,"fill":"white","stroke":"#ff2020","strokeWidth":1.2,"opacity":1,"clip":true}},
{"transform":[{"filter":"datum.s=='SBt'&&datum.m==1"}],"mark":{"type":"point","shape":"square","size":45,"filled":true,"fill":"#ff2020","stroke":"#ff2020","opacity":1,"clip":true}}
]},
{"data":{"name":"leg1"},"mark":{"type":"point","filled":true,"opacity":1},
"encoding":{"x":{"field":"T","type":"quantitative","axis":{"orient":"top","labels":false,"ticks":false,"domain":true,"title":null}},
"shape":{"field":"leg","type":"nominal","scale":{"domain":["ε","Θ","Linear heating","Salt bath"],"range":["M-1,0H0.3M1.2,0H2.5M0.3,-0.45H1.2V0.45H0.3Z","M-1,0H2.5M0.3,-0.45H1.2V0.45H0.3Z","M-1,-0.08H2.5V0.08H-1ZM0.75,-0.85L1.6,0L0.75,0.85L-0.1,0Z","M-1,0H2.5M0.75,-0.38L1.13,0L0.75,0.38L0.37,0Z"]},"legend":{"title":null,"orient":"top-left","offset":14,"padding":0,"symbolSize":400,"symbolStrokeWidth":1.5,"symbolOpacity":1,"labelOffset":28.4,"rowPadding":3.6}},
"fill":{"field":"leg","type":"nominal","scale":{"domain":["ε","Θ","Linear heating","Salt bath"],"range":["white","black","#770f48","#ff1a1a"]},"legend":{"title":null,"orient":"top-left","offset":14,"padding":0,"symbolSize":400,"symbolStrokeWidth":1.5,"symbolOpacity":1,"labelOffset":28.4,"rowPadding":3.6}},
"stroke":{"field":"leg","type":"nominal","scale":{"domain":["ε","Θ","Linear heating","Salt bath"],"range":["black","black","#770f48","#ff6666"]},"legend":{"title":null,"orient":"top-left","offset":14,"padding":0,"symbolSize":400,"symbolStrokeWidth":1.5,"symbolOpacity":1,"labelOffset":28.4,"rowPadding":3.6}}}}
]}
]
}
